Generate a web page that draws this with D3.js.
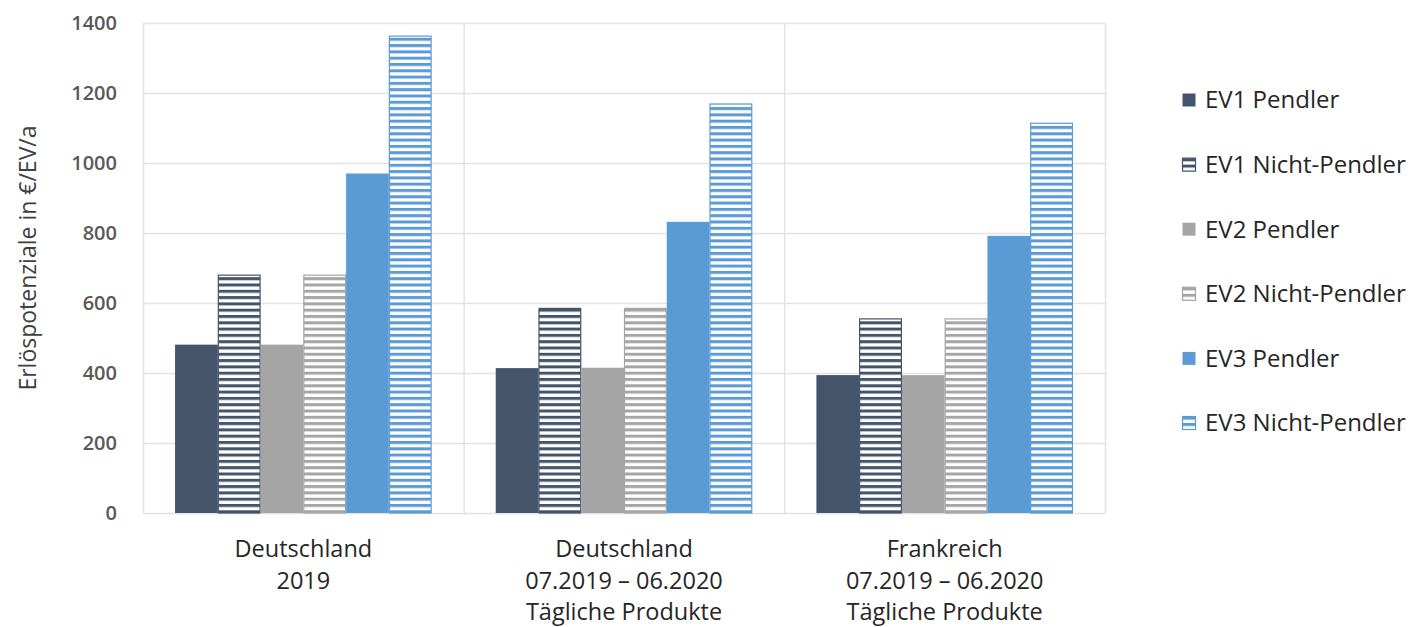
<!DOCTYPE html>
<html>
<head>
<meta charset="utf-8">
<script src="https://cdn.jsdelivr.net/npm/d3@7"></script>
<style>
  body { margin: 0; background: #fff; }
  svg { font-family: "Open Sans", "Noto Sans", sans-serif; }
</style>
</head>
<body>
<div id="chart"></div>
<script>
const categories = [
  ["Deutschland", "2019"],
  ["Deutschland", "07.2019 – 06.2020", "Tägliche Produkte"],
  ["Frankreich", "07.2019 – 06.2020", "Tägliche Produkte"]
];
const seriesNames = ["EV1 Pendler", "EV1 Nicht-Pendler", "EV2 Pendler", "EV2 Nicht-Pendler", "EV3 Pendler", "EV3 Nicht-Pendler"];
const ev1Pendler = [481, 414, 394];
const ev1Nicht = [681, 586, 556];
const ev2Pendler = [481, 415, 394];
const ev2Nicht = [681, 586, 556];
const ev3Pendler = [970, 832, 792];
const ev3Nicht = [1364, 1170, 1115];
const seriesValues = [ev1Pendler, ev1Nicht, ev2Pendler, ev2Nicht, ev3Pendler, ev3Nicht];
const yTicks = [0, 200, 400, 600, 800, 1000, 1200, 1400];

const colors = ["#44546a", "#44546a", "#a5a5a5", "#a5a5a5", "#5b9bd5", "#5b9bd5"];
const hatched = [false, true, false, true, false, true];

const W = 1417, H = 627;
const m = {left: 143, right: 312, top: 23, bottom: 114};

const svg = d3.select("#chart").append("svg").attr("width", W).attr("height", H);
const defs = svg.append("defs");
seriesNames.forEach((s, i) => {
  if (!hatched[i]) return;
  const p = defs.append("pattern").attr("id", "hatch" + i)
    .attr("patternUnits", "userSpaceOnUse").attr("width", 8).attr("height", 6.3);
  p.append("rect").attr("width", 8).attr("height", 6.3).attr("fill", "#fff");
  p.append("rect").attr("y", 0).attr("width", 8).attr("height", 3).attr("fill", colors[i]);
});

const x = d3.scaleBand().domain(d3.range(categories.length)).range([m.left, W - m.right]);
const xs = d3.scaleBand().domain(d3.range(seriesNames.length))
  .range([x.bandwidth() * 0.1, x.bandwidth() * 0.9]);
const y = d3.scaleLinear().domain([0, 1400]).range([H - m.bottom, m.top]);

// grid
svg.append("g").selectAll("line").data(yTicks).join("line")
  .attr("x1", m.left).attr("x2", W - m.right)
  .attr("y1", d => y(d) + 0.5).attr("y2", d => y(d) + 0.5)
  .attr("stroke", "#e3e3e3").attr("stroke-width", 1.5);
svg.append("g").selectAll("line").data(d3.range(categories.length + 1)).join("line")
  .attr("x1", d => (d < categories.length ? x(d) : W - m.right) + 0.5)
  .attr("x2", d => (d < categories.length ? x(d) : W - m.right) + 0.5)
  .attr("y1", y(1400)).attr("y2", y(0))
  .attr("stroke", "#e3e3e3").attr("stroke-width", 1.5);

// y tick labels
svg.append("g").selectAll("text").data(yTicks).join("text")
  .attr("x", 117).attr("y", d => y(d)).attr("dy", "0.35em")
  .attr("text-anchor", "end").attr("font-size", 20).attr("font-weight", 600)
  .attr("fill", "#595959").text(d => d);

svg.append("text")
  .attr("transform", `translate(36,258) rotate(-90)`)
  .attr("text-anchor", "middle").attr("font-size", 23).attr("fill", "#404040")
  .text("Erlöspotenziale in €/EV/a");

// bars
seriesValues.forEach((vals, i) => {
  svg.append("g").selectAll("rect").data(vals).join("rect")
    .attr("x", (d, c) => x(c) + xs(i) + (hatched[i] ? 0.5 : 0))
    .attr("y", d => y(d) + (hatched[i] ? 0.5 : 0))
    .attr("width", xs.bandwidth() - (hatched[i] ? 1 : 0))
    .attr("height", d => y(0) - y(d) - (hatched[i] ? 0.5 : 0))
    .attr("fill", hatched[i] ? `url(#hatch${i})` : colors[i])
    .attr("stroke", hatched[i] ? colors[i] : "none")
    .attr("stroke-width", 1.2);
});

// category labels
const cat = svg.append("g").selectAll("text").data(categories).join("text")
  .attr("x", (d, c) => x(c) + x.bandwidth() / 2)
  .attr("y", 557).attr("text-anchor", "middle")
  .attr("font-size", 23.5).attr("fill", "#262626");
cat.selectAll("tspan").data(d => d).join("tspan")
  .attr("x", function() { return this.parentNode.getAttribute("x"); })
  .attr("dy", (d, j) => j === 0 ? 0 : 31.5).text(d => d);

// legend
const leg = svg.append("g").selectAll("g").data(seriesNames).join("g")
  .attr("transform", (d, i) => `translate(1182,${100 + i * 64.6})`);
leg.append("rect").attr("x", 0.5).attr("y", -6.5).attr("width", 13).attr("height", 13)
  .attr("fill", (d, i) => hatched[i] ? `url(#hatch${i})` : colors[i])
  .attr("stroke", (d, i) => hatched[i] ? colors[i] : "none").attr("stroke-width", 1.2);
leg.append("text").attr("x", 23).attr("dy", "0.35em").attr("font-size", 24)
  .attr("fill", "#262626").text(d => d);
</script>
</body>
</html>
